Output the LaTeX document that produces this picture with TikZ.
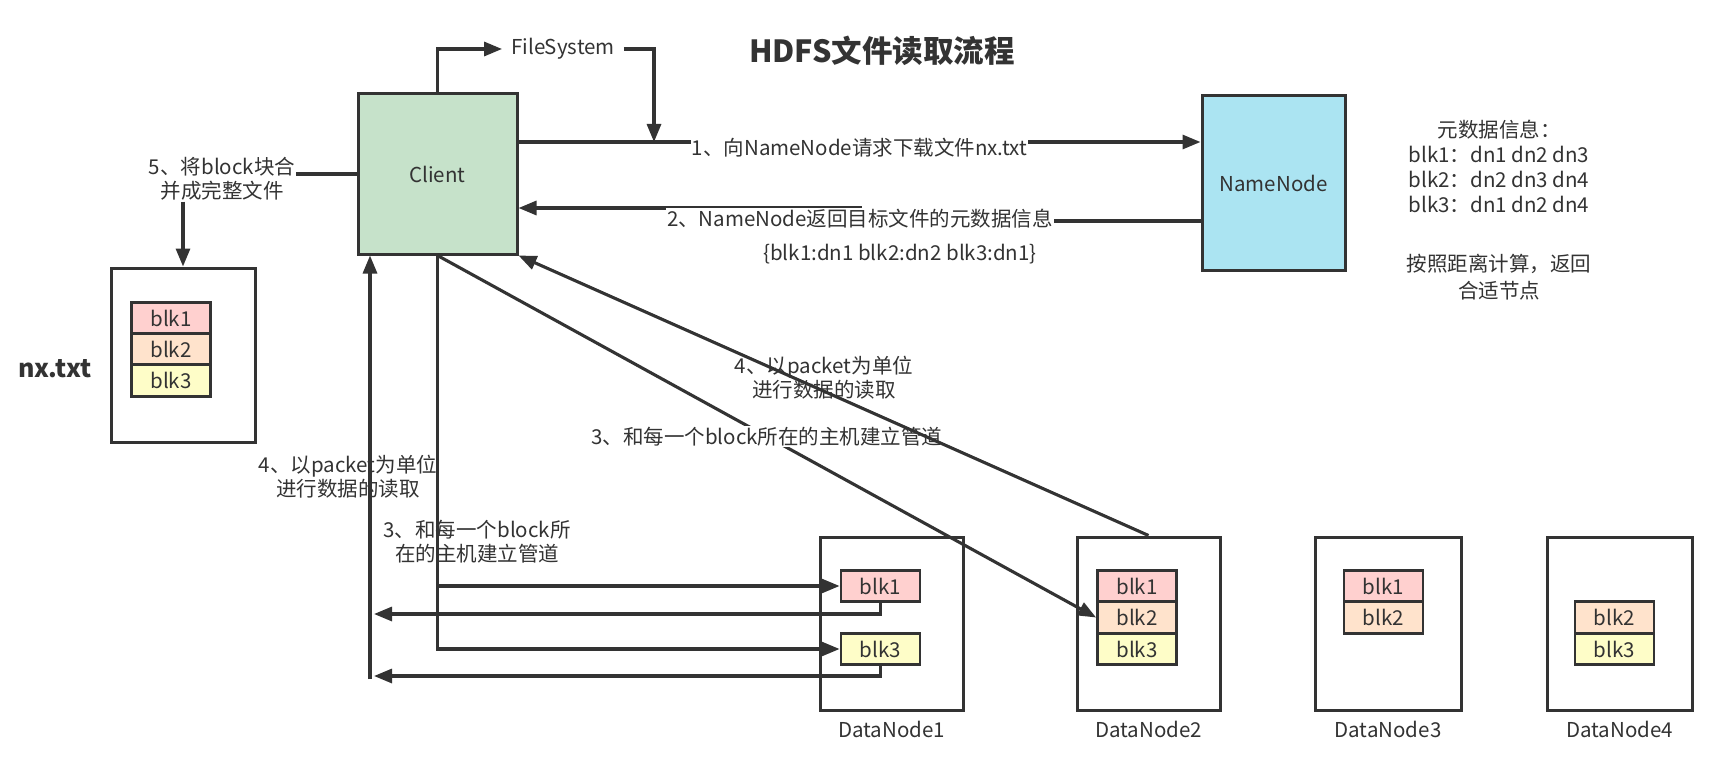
\documentclass[tikz,border=0pt]{standalone}
\usepackage{fontspec}
\setmainfont{Noto Sans CJK SC}
\usetikzlibrary{arrows.meta}
\definecolor{lnc}{HTML}{333333}
\definecolor{clientc}{HTML}{C6E2CA}
\definecolor{nnc}{HTML}{ABE4F2}
\definecolor{bka}{HTML}{FFD0CF}
\definecolor{bkb}{HTML}{FFE3CC}
\definecolor{bkc}{HTML}{FEFDC8}
\begin{document}
\begin{tikzpicture}[x=1pt,y=-1pt,
  txt/.style={text=lnc,font=\fontsize{20.5}{24}\selectfont,align=center,inner sep=1pt},
  box/.style={draw=lnc,line width=3pt,inner sep=0pt},
  blk/.style={txt,draw=lnc,line width=2.8pt,minimum width=79pt,minimum height=31.5pt,inner sep=0pt},
  arr/.style={draw=lnc,line width=3.1pt,-{Triangle[length=18pt,width=14pt]}},
  conn/.style={draw=lnc,line width=3.1pt},
]
\fill[white] (0,0) rectangle (1718,770);
\useasboundingbox (0,0) rectangle (1718,770);

% title
\node[txt,font=\fontsize{30.5}{34}\bfseries\selectfont] (title) at (882,51) {HDFS文件读取流程};

% main boxes
\node[txt,box,fill=clientc,minimum width=159pt,minimum height=160pt] (client) at (437.5,174) {Client};
\node[txt,box,fill=nnc,minimum width=143pt,minimum height=174pt] (nn) at (1273.5,183) {NameNode};

% FileSystem
\node[txt,inner sep=9pt] (fs) at (563,49) {FileSystem};
\coordinate (fsin) at (654,142);
\draw[arr] (client.north) |- (fs.west);
\draw[arr] (fs.east) -| (fsin);

% step 1
\coordinate (y1) at (0,142);
\draw[arr] (client.east|-y1) -- (nn.west|-y1)
  node[midway,txt,fill=white,yshift=-6pt] (l1) {1、向NameNode请求下载文件nx.txt};

% step 2
\coordinate (y2a) at (0,221);
\coordinate (y2b) at (0,208);
\coordinate (s2) at (860,0);
\draw[arr] (nn.west|-y2a) -- (s2|-y2a) -- (s2|-y2b) -- (client.east|-y2b);
\node[txt,fill=white] (l2) at (860,219) {2、NameNode返回目标文件的元数据信息};
\node[txt] (meta1) at (900,254) {\{blk1:dn1 blk2:dn2 blk3:dn1\}};

% metadata info
\node[txt,font=\fontsize{20.5}{25.2}\selectfont] (meta2) at (1499,166.5) {元数据信息：\\blk1：dn1 dn2 dn3\\blk2：dn2 dn3 dn4\\blk3：dn1 dn2 dn4};
\node[txt,font=\fontsize{20.5}{27}\selectfont] (meta3) at (1499,277.5) {按照距离计算，返回\\合适节点};

% nx.txt file
\node[box,minimum width=144pt,minimum height=174pt] (nx) at (183,355) {};
\node[blk,fill=bka] (nb1) at (171,318.5) {blk1};
\node[blk,fill=bkb] (nb2) at (171,349.5) {blk2};
\node[blk,fill=bkc] (nb3) at (171,380.5) {blk3};
\node[txt,font=\fontsize{25}{28}\bfseries\selectfont] (nxl) at (55,369) {nx.txt};

% step 5
\node[txt] (l5) at (222,179) {5、将block块合\\并成完整文件};
\coordinate (y5) at (0,174);
\draw[conn] (client.west|-y5) -- (l5.east|-y5);
\draw[arr] (l5.south-|nx.north) -- (nx.north);

% DataNodes
\node[box,minimum width=143pt,minimum height=173pt] (dn1) at (891.5,623.5) {};
\node[blk,fill=bka] (d1b1) at (880.5,586) {blk1};
\node[blk,fill=bkc] (d1b3) at (880.5,649) {blk3};
\node[txt] (dn1l) at (891.5,729) {DataNode1};

\node[box,minimum width=143pt,minimum height=173pt] (dn2) at (1148.5,623.5) {};
\node[blk,fill=bka] (d2b1) at (1137,586) {blk1};
\node[blk,fill=bkb] (d2b2) at (1137,617.5) {blk2};
\node[blk,fill=bkc] (d2b3) at (1137,649) {blk3};
\node[txt] (dn2l) at (1148.5,729) {DataNode2};

\node[box,minimum width=146pt,minimum height=173pt] (dn3) at (1388,623.5) {};
\node[blk,fill=bka] (d3b1) at (1383.5,586) {blk1};
\node[blk,fill=bkb] (d3b2) at (1383.5,617.5) {blk2};
\node[txt] (dn3l) at (1388,729) {DataNode3};

\node[box,minimum width=145pt,minimum height=173pt] (dn4) at (1619.5,623.5) {};
\node[blk,fill=bkb] (d4b2) at (1614.5,617.5) {blk2};
\node[blk,fill=bkc] (d4b3) at (1614.5,649) {blk3};
\node[txt] (dn4l) at (1619.5,729) {DataNode4};

% step 3 (left, orthogonal)
\draw[arr] (client.south) |- (d1b1.west);
\draw[arr] (client.south) |- (d1b3.west);

% step 4 (left, returns)
\coordinate (r1) at (374,614);
\coordinate (r3) at (374,676);
\coordinate (up) at (370,679);
\draw[arr] (d1b1.south) |- (r1);
\draw[arr] (d1b3.south) |- (r3);
\draw[arr] (up) -- (client.south-|up);

\node[txt] (l4a) at (348,477) {4、以packet为单位\\进行数据的读取};
\node[txt] (l3a) at (477,542) {3、和每一个block所\\在的主机建立管道};

% diagonal step 3
\draw[arr] (client.south) -- (d2b2.west)
  node[midway,txt,fill=white] (l3b) {3、和每一个block所在的主机建立管道};
% diagonal step 4
\draw[arr] (dn2.north) -- (client.south east);
\node[txt] (l4b) at (824,378) {4、以packet为单位\\进行数据的读取};
\end{tikzpicture}
\end{document}
